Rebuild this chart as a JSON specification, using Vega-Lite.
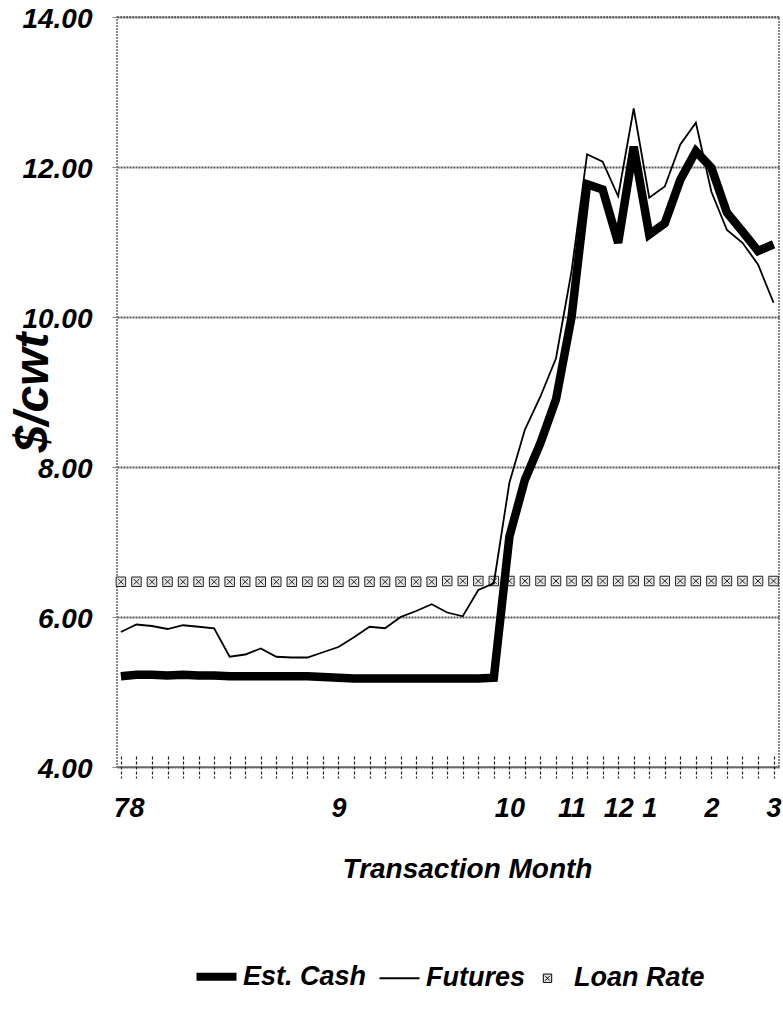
{
  "$schema": "https://vega.github.io/schema/vega-lite/v6.json",
  "width": 662,
  "height": 750,
  "autosize": "none",
  "padding": {"left": 117, "top": 17, "right": 4, "bottom": 243},
  "background": "white",
  "config": {
    "view": {"stroke": "#666", "strokeWidth": 1.5, "strokeDash": [2, 1]},
    "font": "Liberation Sans, Arial, sans-serif"
  },
  "data": {
    "values": [
      {"m": 0, "s": "Est. Cash", "v": 5.21}, {"m": 1, "s": "Est. Cash", "v": 5.23}, {"m": 2, "s": "Est. Cash", "v": 5.23},
      {"m": 3, "s": "Est. Cash", "v": 5.22}, {"m": 4, "s": "Est. Cash", "v": 5.23}, {"m": 5, "s": "Est. Cash", "v": 5.22},
      {"m": 6, "s": "Est. Cash", "v": 5.22}, {"m": 7, "s": "Est. Cash", "v": 5.21}, {"m": 8, "s": "Est. Cash", "v": 5.21},
      {"m": 9, "s": "Est. Cash", "v": 5.21}, {"m": 10, "s": "Est. Cash", "v": 5.21}, {"m": 11, "s": "Est. Cash", "v": 5.21},
      {"m": 12, "s": "Est. Cash", "v": 5.21}, {"m": 13, "s": "Est. Cash", "v": 5.2}, {"m": 14, "s": "Est. Cash", "v": 5.19},
      {"m": 15, "s": "Est. Cash", "v": 5.18}, {"m": 16, "s": "Est. Cash", "v": 5.18}, {"m": 17, "s": "Est. Cash", "v": 5.18},
      {"m": 18, "s": "Est. Cash", "v": 5.18}, {"m": 19, "s": "Est. Cash", "v": 5.18}, {"m": 20, "s": "Est. Cash", "v": 5.18},
      {"m": 21, "s": "Est. Cash", "v": 5.18}, {"m": 22, "s": "Est. Cash", "v": 5.18}, {"m": 23, "s": "Est. Cash", "v": 5.18},
      {"m": 24, "s": "Est. Cash", "v": 5.19}, {"m": 25, "s": "Est. Cash", "v": 7.07}, {"m": 26, "s": "Est. Cash", "v": 7.83},
      {"m": 27, "s": "Est. Cash", "v": 8.32}, {"m": 28, "s": "Est. Cash", "v": 8.9}, {"m": 29, "s": "Est. Cash", "v": 10.0},
      {"m": 30, "s": "Est. Cash", "v": 11.77}, {"m": 31, "s": "Est. Cash", "v": 11.7}, {"m": 32, "s": "Est. Cash", "v": 10.99},
      {"m": 33, "s": "Est. Cash", "v": 12.27}, {"m": 34, "s": "Est. Cash", "v": 11.1}, {"m": 35, "s": "Est. Cash", "v": 11.25},
      {"m": 36, "s": "Est. Cash", "v": 11.83}, {"m": 37, "s": "Est. Cash", "v": 12.21}, {"m": 38, "s": "Est. Cash", "v": 11.99},
      {"m": 39, "s": "Est. Cash", "v": 11.39}, {"m": 40, "s": "Est. Cash", "v": 11.14}, {"m": 41, "s": "Est. Cash", "v": 10.88},
      {"m": 42, "s": "Est. Cash", "v": 10.97},
      {"m": 0, "s": "Futures", "v": 5.8}, {"m": 1, "s": "Futures", "v": 5.9}, {"m": 2, "s": "Futures", "v": 5.88},
      {"m": 3, "s": "Futures", "v": 5.84}, {"m": 4, "s": "Futures", "v": 5.89}, {"m": 5, "s": "Futures", "v": 5.87},
      {"m": 6, "s": "Futures", "v": 5.85}, {"m": 7, "s": "Futures", "v": 5.47}, {"m": 8, "s": "Futures", "v": 5.5},
      {"m": 9, "s": "Futures", "v": 5.58}, {"m": 10, "s": "Futures", "v": 5.47}, {"m": 11, "s": "Futures", "v": 5.46},
      {"m": 12, "s": "Futures", "v": 5.46}, {"m": 13, "s": "Futures", "v": 5.53}, {"m": 14, "s": "Futures", "v": 5.6},
      {"m": 15, "s": "Futures", "v": 5.73}, {"m": 16, "s": "Futures", "v": 5.87}, {"m": 17, "s": "Futures", "v": 5.85},
      {"m": 18, "s": "Futures", "v": 6.0}, {"m": 19, "s": "Futures", "v": 6.08}, {"m": 20, "s": "Futures", "v": 6.17},
      {"m": 21, "s": "Futures", "v": 6.06}, {"m": 22, "s": "Futures", "v": 6.01}, {"m": 23, "s": "Futures", "v": 6.36},
      {"m": 24, "s": "Futures", "v": 6.45}, {"m": 25, "s": "Futures", "v": 7.79}, {"m": 26, "s": "Futures", "v": 8.5},
      {"m": 27, "s": "Futures", "v": 8.94}, {"m": 28, "s": "Futures", "v": 9.45}, {"m": 29, "s": "Futures", "v": 10.61},
      {"m": 30, "s": "Futures", "v": 12.17}, {"m": 31, "s": "Futures", "v": 12.07}, {"m": 32, "s": "Futures", "v": 11.61},
      {"m": 33, "s": "Futures", "v": 12.78}, {"m": 34, "s": "Futures", "v": 11.59}, {"m": 35, "s": "Futures", "v": 11.74},
      {"m": 36, "s": "Futures", "v": 12.3}, {"m": 37, "s": "Futures", "v": 12.59}, {"m": 38, "s": "Futures", "v": 11.67},
      {"m": 39, "s": "Futures", "v": 11.16}, {"m": 40, "s": "Futures", "v": 10.99}, {"m": 41, "s": "Futures", "v": 10.7},
      {"m": 42, "s": "Futures", "v": 10.19},
      {"m": 0, "s": "Loan Rate", "v": 6.47}, {"m": 1, "s": "Loan Rate", "v": 6.47}, {"m": 2, "s": "Loan Rate", "v": 6.47},
      {"m": 3, "s": "Loan Rate", "v": 6.47}, {"m": 4, "s": "Loan Rate", "v": 6.47}, {"m": 5, "s": "Loan Rate", "v": 6.47},
      {"m": 6, "s": "Loan Rate", "v": 6.47}, {"m": 7, "s": "Loan Rate", "v": 6.47}, {"m": 8, "s": "Loan Rate", "v": 6.47},
      {"m": 9, "s": "Loan Rate", "v": 6.47}, {"m": 10, "s": "Loan Rate", "v": 6.47}, {"m": 11, "s": "Loan Rate", "v": 6.47},
      {"m": 12, "s": "Loan Rate", "v": 6.47}, {"m": 13, "s": "Loan Rate", "v": 6.47}, {"m": 14, "s": "Loan Rate", "v": 6.47},
      {"m": 15, "s": "Loan Rate", "v": 6.47}, {"m": 16, "s": "Loan Rate", "v": 6.47}, {"m": 17, "s": "Loan Rate", "v": 6.47},
      {"m": 18, "s": "Loan Rate", "v": 6.47}, {"m": 19, "s": "Loan Rate", "v": 6.47}, {"m": 20, "s": "Loan Rate", "v": 6.47},
      {"m": 21, "s": "Loan Rate", "v": 6.48}, {"m": 22, "s": "Loan Rate", "v": 6.48}, {"m": 23, "s": "Loan Rate", "v": 6.48},
      {"m": 24, "s": "Loan Rate", "v": 6.48}, {"m": 25, "s": "Loan Rate", "v": 6.48}, {"m": 26, "s": "Loan Rate", "v": 6.48},
      {"m": 27, "s": "Loan Rate", "v": 6.48}, {"m": 28, "s": "Loan Rate", "v": 6.48}, {"m": 29, "s": "Loan Rate", "v": 6.48},
      {"m": 30, "s": "Loan Rate", "v": 6.48}, {"m": 31, "s": "Loan Rate", "v": 6.48}, {"m": 32, "s": "Loan Rate", "v": 6.48},
      {"m": 33, "s": "Loan Rate", "v": 6.48}, {"m": 34, "s": "Loan Rate", "v": 6.48}, {"m": 35, "s": "Loan Rate", "v": 6.48},
      {"m": 36, "s": "Loan Rate", "v": 6.48}, {"m": 37, "s": "Loan Rate", "v": 6.48}, {"m": 38, "s": "Loan Rate", "v": 6.48},
      {"m": 39, "s": "Loan Rate", "v": 6.48}, {"m": 40, "s": "Loan Rate", "v": 6.48}, {"m": 41, "s": "Loan Rate", "v": 6.48},
      {"m": 42, "s": "Loan Rate", "v": 6.48}
    ]
  },
  "encoding": {
    "x": {
      "field": "m",
      "type": "quantitative",
      "scale": {"domain": [-0.25, 42.35], "nice": false, "zero": false},
      "axis": {
        "values": [0,1,2,3,4,5,6,7,8,9,10,11,12,13,14,15,16,17,18,19,20,21,22,23,24,25,26,27,28,29,30,31,32,33,34,35,36,37,38,39,40,41,42],
        "labelExpr": "datum.value==0?'7':datum.value==1?'8':datum.value==14?'9':datum.value==25?'10':datum.value==29?'11':datum.value==32?'12':datum.value==34?'1':datum.value==38?'2':datum.value==42?'3':''",
        "grid": false,
        "domain": false,
        "offset": -11,
        "tickSize": 22,
        "tickColor": "#222",
        "tickWidth": 1.2,
        "tickDash": [3, 2],
        "labelFontSize": 27,
        "labelFontWeight": "bold",
        "labelFontStyle": "italic",
        "labelColor": "black",
        "labelPadding": 30,
        "labelBaseline": "middle",
        "labelOverlap": false,
        "labelFlush": false,
        "title": "Transaction Month",
        "titleFontSize": 28,
        "titleFontWeight": "bold",
        "titleFontStyle": "italic",
        "titleColor": "black",
        "titleX": 350,
        "titleY": 113,
        "titleAlign": "center",
        "titleBaseline": "middle"
      }
    },
    "y": {
      "field": "v",
      "type": "quantitative",
      "scale": {"domain": [4, 14], "nice": false, "zero": false},
      "axis": {
        "values": [4, 6, 8, 10, 12, 14],
        "format": ".2f",
        "grid": true,
        "gridColor": "#555",
        "gridWidth": 2.2,
        "gridDash": [2, 1],
        "domain": false,
        "tickSize": 5,
        "tickColor": "#888",
        "labelFontSize": 28,
        "labelFontWeight": "bold",
        "labelFontStyle": "italic",
        "labelColor": "black",
        "labelPadding": 20,
        "labelOffset": 2,
        "title": "$/cwt",
        "titleFont": "Liberation Sans",
        "titleFontSize": 48,
        "titleFontWeight": "bold",
        "titleFontStyle": "italic",
        "titleColor": "black",
        "titleAngle": -90,
        "titleX": -84,
        "titleY": 375,
        "titleAlign": "center",
        "titleBaseline": "middle"
      }
    }
  },
  "layer": [
    {
      "transform": [{"filter": "datum.s === 'Loan Rate'"}],
      "mark": {
        "type": "point",
        "shape": "M-1,-1H1V1H-1Z M-0.6,-0.6L0.6,0.6 M0.6,-0.6L-0.6,0.6",
        "size": 90,
        "filled": true,
        "fill": "#e6e6e6",
        "stroke": "#222",
        "strokeWidth": 1,
        "opacity": 1
      }
    },
    {
      "transform": [{"filter": "datum.s === 'Est. Cash'"}],
      "mark": {"type": "line", "strokeWidth": 8.5, "strokeJoin": "miter"},
      "encoding": {
        "color": {
          "field": "s",
          "type": "nominal",
          "scale": {"domain": ["Est. Cash", "Futures", "Loan Rate"], "range": ["black", "black", "black"]},
          "legend": {
            "orient": "none",
            "legendX": 86,
            "legendY": 946,
            "direction": "horizontal",
            "title": null,
            "symbolType": "stroke",
            "symbolSize": 1600,
            "labelFontSize": 27,
            "labelFontWeight": "bold",
            "labelFontStyle": "italic",
            "labelColor": "black",
            "labelOffset": 13,
            "columnPadding": 8,
            "encode": {
              "symbols": {
                "update": {
                  "strokeWidth": {"signal": "datum.value==='Est. Cash'?8:datum.value==='Futures'?1.8:1"},
                  "shape": {"signal": "datum.value==='Loan Rate'?'M-1,-1H1V1H-1Z M-0.6,-0.6L0.6,0.6 M0.6,-0.6L-0.6,0.6':'stroke'"},
                  "size": {"signal": "datum.value==='Loan Rate'?70:1600"},
                  "fill": {"signal": "datum.value==='Loan Rate'?'#e6e6e6':'transparent'"},
                  "stroke": {"value": "black"},
                  "opacity": {"value": 1}
                }
              }
            }
          }
        }
      }
    },
    {
      "transform": [{"filter": "datum.s === 'Futures'"}],
      "mark": {"type": "line", "strokeWidth": 1.8},
      "encoding": {
        "color": {
          "field": "s",
          "type": "nominal",
          "scale": {"domain": ["Est. Cash", "Futures", "Loan Rate"], "range": ["black", "black", "black"]}
        }
      }
    }
  ]
}
